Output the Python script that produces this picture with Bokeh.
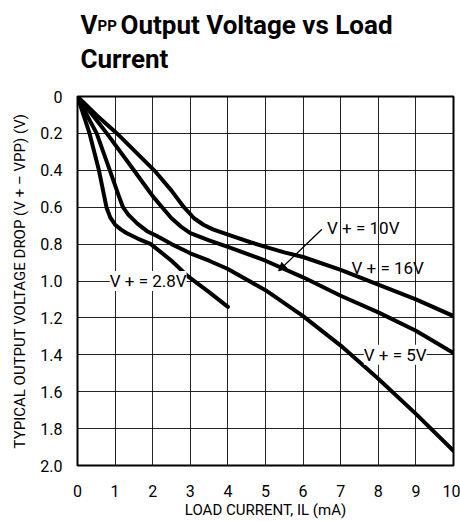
from bokeh.plotting import figure
from bokeh.models import Range1d, FixedTicker, Label, Arrow, NormalHead
from bokeh.layouts import column
from bokeh.embed import file_html
from bokeh.resources import INLINE

FONT = "Roboto"

# ---- data ----
x_28 = [0, 0.32, 0.57, 0.77, 0.87, 1.0, 1.15, 1.3, 1.6, 1.95, 2.5, 2.94, 3.5, 4.0]
y_28 = [0, 0.20, 0.40, 0.60, 0.655, 0.695, 0.72, 0.74, 0.77, 0.80, 0.89, 0.975, 1.06, 1.14]

x_5 = [0, 0.3, 0.51, 0.86, 1.1, 1.21, 1.35, 1.6, 1.85, 2.1, 2.5, 3.0, 3.5, 4.0, 5.0, 6.0, 7.0, 8.0, 9.0, 10.0]
y_5 = [0, 0.12, 0.20, 0.40, 0.54, 0.60, 0.64, 0.69, 0.73, 0.755, 0.80, 0.85, 0.89, 0.935, 1.05, 1.19, 1.35, 1.53, 1.72, 1.92]

x_10 = [0, 0.4, 0.78, 1.5, 1.75, 2.0, 2.25, 2.5, 2.75, 3.0, 3.5, 4.0, 5.0, 6.0, 7.0, 8.0, 9.0, 10.0]
y_10 = [0, 0.10, 0.20, 0.40, 0.47, 0.54, 0.60, 0.66, 0.705, 0.74, 0.78, 0.815, 0.89, 0.98, 1.08, 1.17, 1.27, 1.39]

x_16 = [0, 0.5, 1.05, 2.04, 2.5, 2.83, 3.1, 3.35, 3.6, 4.1, 4.6, 5.0, 5.5, 6.0, 7.0, 8.0, 9.0, 10.0]
y_16 = [0, 0.10, 0.20, 0.40, 0.51, 0.60, 0.66, 0.695, 0.72, 0.755, 0.79, 0.815, 0.845, 0.87, 0.94, 1.02, 1.10, 1.19]

x_ticks = [0, 1, 2, 3, 4, 5, 6, 7, 8, 9, 10]
y_ticks = [0, 0.2, 0.4, 0.6, 0.8, 1.0, 1.2, 1.4, 1.6, 1.8, 2.0]
y_tick_labels = ["0", "0.2", "0.4", "0.6", "0.8", "1.0", "1.2", "1.4", "1.6", "1.8", "2.0"]

curve_labels = ["V + = 2.8V", "V + = 5V", "V + = 10V", "V + = 16V"]
title_parts = ["V", "PP", "Output Voltage vs Load", "Current"]

W = 460
L, R = 77, 7
TH = 80

# ---- title strip (its own small svg figure; data units = page pixels) ----
t = figure(width=W, height=TH, output_backend="svg", toolbar_location=None,
           x_range=Range1d(L, W - R), y_range=Range1d(0, TH),
           min_border_left=L, min_border_right=R, min_border_top=0, min_border_bottom=0)
t.axis.visible = False
t.grid.visible = False
t.outline_line_color = None
t.background_fill_color = "white"
t.border_fill_color = "white"

def tlab(x, y, txt, size):
    t.add_layout(Label(x=x, y=y, text=txt, text_font=FONT, text_font_size=size,
                       text_font_style="bold", text_color="black",
                       text_align="left", text_baseline="alphabetic"))

tlab(80, TH - 24, title_parts[0], "26px")
tlab(97, TH - 25, title_parts[1], "15px")
tlab(120, TH - 24, title_parts[2], "26px")
tlab(80, TH - 58, title_parts[3], "26px")

# ---- main chart ----
p = figure(width=W, height=521 - TH, output_backend="svg", toolbar_location=None,
           x_range=Range1d(0, 10), y_range=Range1d(2.0, 0.0),
           min_border_left=L, min_border_right=R, min_border_top=96 - TH,
           min_border_bottom=56)

p.background_fill_color = "white"
p.border_fill_color = "white"
p.outline_line_color = "black"
p.outline_line_width = 2

p.xaxis.ticker = FixedTicker(ticks=x_ticks)
p.yaxis.ticker = FixedTicker(ticks=y_ticks)
p.yaxis.major_label_overrides = {tk: l for tk, l in zip(y_ticks, y_tick_labels)}
p.xgrid.ticker = FixedTicker(ticks=x_ticks)
p.ygrid.ticker = FixedTicker(ticks=y_ticks)
for g in (p.xgrid, p.ygrid):
    g.grid_line_color = "black"
    g.grid_line_width = 1
    g.grid_line_alpha = 0.85

for ax in (p.xaxis, p.yaxis):
    ax.axis_line_color = None
    ax.major_tick_line_color = None
    ax.minor_tick_line_color = None
    ax.major_label_text_font = FONT
    ax.major_label_text_font_size = "16px"
    ax.major_label_text_color = "black"
    ax.axis_label_text_font = FONT
    ax.axis_label_text_font_size = "15px"
    ax.axis_label_text_font_style = "normal"
    ax.axis_label_text_color = "black"

p.xaxis.major_label_standoff = 13
p.yaxis.major_label_standoff = 9
p.xaxis.axis_label = "LOAD CURRENT, IL (mA)"
p.xaxis.axis_label_standoff = 1
p.yaxis.axis_label = "TYPICAL OUTPUT VOLTAGE DROP (V + \u2013 VPP) (V)"
p.yaxis.axis_label_standoff = 8

lw = 4
for xs, ys in ((x_28, y_28), (x_5, y_5), (x_10, y_10), (x_16, y_16)):
    p.line(xs, ys, line_color="black", line_width=lw, line_join="round", line_cap="round")

def lab(x, y, txt, bg=None, align="center"):
    p.add_layout(Label(x=x, y=y, text=txt, text_font=FONT, text_font_size="17px",
                       text_color="black", text_align=align, text_baseline="middle",
                       background_fill_color=bg, border_line_color=None))

lab(1.88, 1.0, curve_labels[0], bg="white")
lab(8.45, 1.40, curve_labels[1], bg="white")
lab(7.6, 0.715, curve_labels[2])
lab(8.25, 0.93, curve_labels[3])

p.add_layout(Arrow(end=NormalHead(size=8, fill_color="black", line_color="black"),
                   x_start=6.5, y_start=0.72, x_end=5.35, y_end=0.945,
                   line_color="black", line_width=1.3))

open("out.html", "w").write(file_html(column(t, p, spacing=0), INLINE))
